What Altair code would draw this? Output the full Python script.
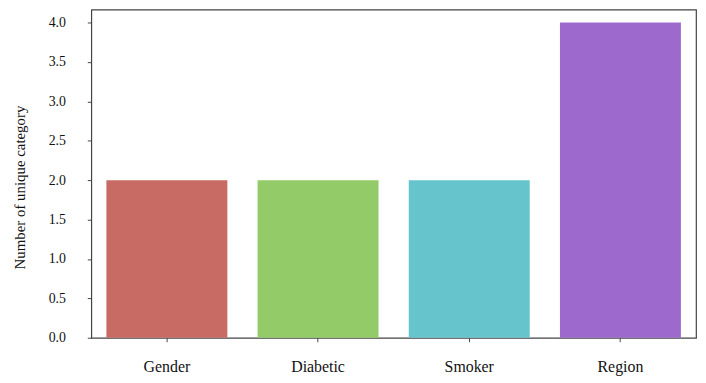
import altair as alt
import pandas as pd

categories = ["Gender", "Diabetic", "Smoker", "Region"]
counts = [2, 2, 2, 4]
colors = ["#C86B64", "#93CB69", "#66C5CC", "#9D69CD"]
y_ticks = [0.0, 0.5, 1.0, 1.5, 2.0, 2.5, 3.0, 3.5, 4.0]

df = pd.DataFrame({"category": categories, "count": counts})

font = "Liberation Serif"

chart = alt.Chart(df).mark_bar().encode(
    x=alt.X("category:N", sort=categories,
            scale=alt.Scale(paddingInner=0.2, paddingOuter=0.1),
            axis=alt.Axis(title=None, labelAngle=0, labelFontSize=16, labelPadding=17,
                          tickSize=4, domain=False, labelFont=font, labelColor="#111",
                          tickColor="#444")),
    y=alt.Y("count:Q", scale=alt.Scale(domain=[0, 4.164], nice=False, zero=True),
            axis=alt.Axis(title="Number of unique category", values=y_ticks, format=".1f",
                          grid=False, domain=False, tickSize=4, labelPadding=22,
                          labelFontSize=14, labelFont=font, labelColor="#111",
                          tickColor="#444", titleFont=font, titleFontSize=15,
                          titleFontWeight="normal", titleColor="#111",
                          titleX=-72, titleY=179, titleAngle=-90,
                          titleAlign="center", titleBaseline="middle")),
    color=alt.Color("category:N", sort=categories,
                    scale=alt.Scale(domain=categories, range=colors), legend=None),
).properties(
    width=610, height=331,
    autosize=alt.AutoSizeParams(type="none"),
    padding={"left": 84, "top": 0, "right": 2, "bottom": 38},
).configure_view(stroke="#444", strokeWidth=1.2)

chart.save("out.html", embed_options={"renderer": "svg", "actions": False})
